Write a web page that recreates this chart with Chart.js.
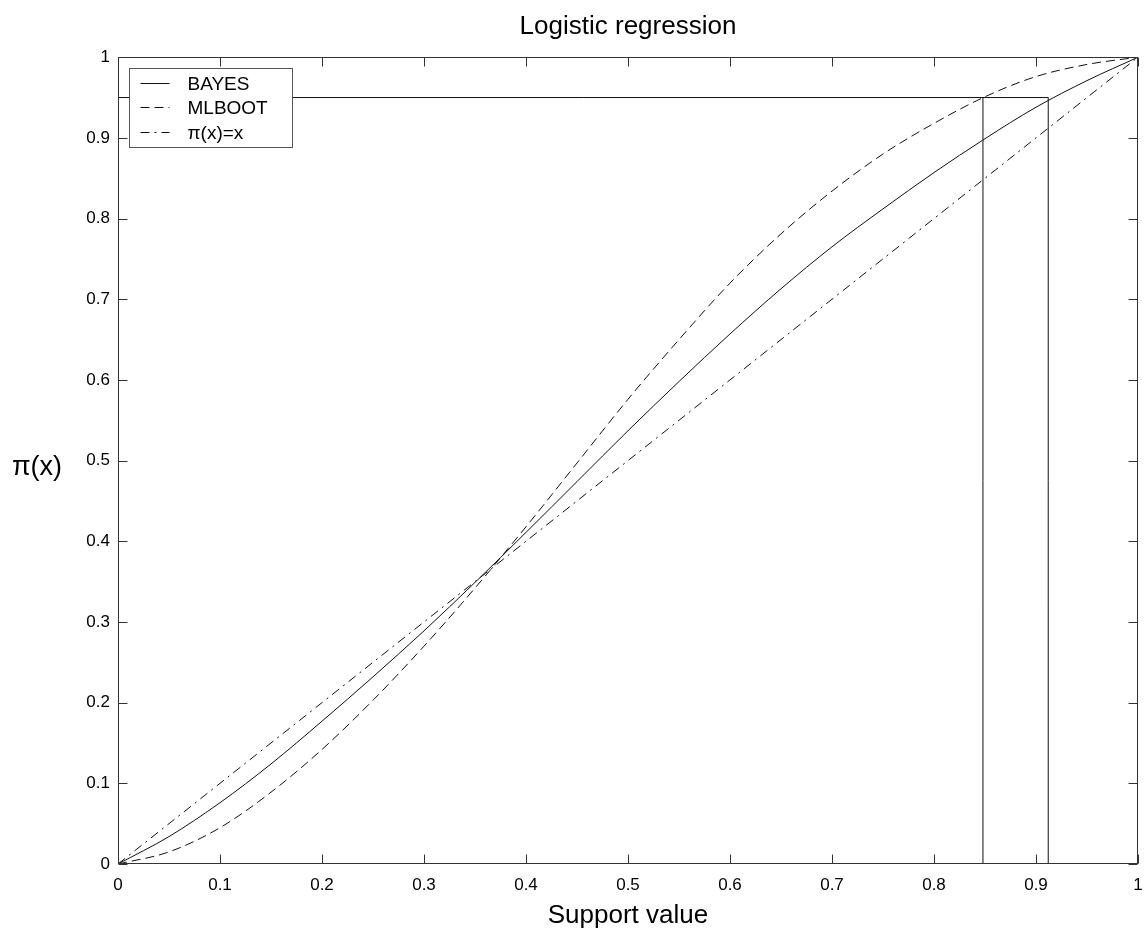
<!DOCTYPE html>
<html>
<head>
<meta charset="utf-8">
<title>Logistic regression</title>
<script src="https://cdn.jsdelivr.net/npm/chart.js@4.4.0/dist/chart.umd.min.js"></script>
<style>
    html, body { margin: 0; padding: 0; background: #fff; }
</style>
</head>
<body>
<canvas id="logitChart" width="1146" height="937"></canvas>
<script>
// values
const supportValues  = [0, 0.05, 0.1, 0.15, 0.2, 0.25, 0.3, 0.35, 0.4, 0.45, 0.5, 0.55, 0.6, 0.65, 0.7, 0.75, 0.8, 0.85, 0.9, 0.95, 1];
const bayesValues    = [0, 0.034, 0.076, 0.124, 0.177, 0.232, 0.289, 0.349, 0.411, 0.474, 0.537, 0.598, 0.657, 0.713, 0.765, 0.812, 0.857, 0.899, 0.938, 0.971, 1];
const mlbootValues   = [0, 0.015, 0.045, 0.089, 0.142, 0.203, 0.270, 0.342, 0.418, 0.497, 0.576, 0.650, 0.720, 0.781, 0.834, 0.880, 0.918, 0.951, 0.976, 0.991, 1];
const identityValues = [0, 0.05, 0.1, 0.15, 0.2, 0.25, 0.3, 0.35, 0.4, 0.45, 0.5, 0.55, 0.6, 0.65, 0.7, 0.75, 0.8, 0.85, 0.9, 0.95, 1];
const seriesLabels = ['BAYES', 'MLBOOT', 'π(x)=x'];

// 95% cut-off and the support values where each curve reaches it
const cutoffLevel = 0.95;
const cutoffSupport = [0.848, 0.912];

const tickValues = [0, 0.1, 0.2, 0.3, 0.4, 0.5, 0.6, 0.7, 0.8, 0.9, 1];
const tickLabels = ['0', '0.1', '0.2', '0.3', '0.4', '0.5', '0.6', '0.7', '0.8', '0.9', '1'];

const FONT = "'Liberation Sans', Arial, Helvetica, sans-serif";
const INK = '#111';

function toPoints(xs, ys) {
    return xs.map(function (x, i) { return { x: x, y: ys[i] }; });
}

// MATLAB style box: frame, inward ticks, boxed legend, upright y label
const matlabBox = {
    id: 'matlabBox',
    afterDraw: function (chart) {
        const ctx = chart.ctx;
        const a = chart.chartArea;
        const xs = chart.scales.x;
        const ys = chart.scales.y;
        const L = Math.round(a.left) + 0.5, R = Math.round(a.right) - 0.5;
        const T = Math.round(a.top) + 0.5, B = Math.round(a.bottom) - 0.5;
        ctx.save();

        ctx.strokeStyle = '#333';
        ctx.lineWidth = 1;
        ctx.setLineDash([]);
        ctx.strokeRect(L, T, R - L, B - T);

        ctx.beginPath();
        tickValues.forEach(function (v) {
            const px = Math.round(xs.getPixelForValue(v)) + 0.5;
            ctx.moveTo(px, B); ctx.lineTo(px, B - 9);
            ctx.moveTo(px, T); ctx.lineTo(px, T + 9);
            const py = Math.round(ys.getPixelForValue(v)) + 0.5;
            ctx.moveTo(L, py); ctx.lineTo(L + 9, py);
            ctx.moveTo(R, py); ctx.lineTo(R - 9, py);
        });
        ctx.stroke();

        // legend
        const bx = L + 11, by = T + 11, bw = 163, bh = 79;
        ctx.fillStyle = '#fff';
        ctx.fillRect(bx, by, bw, bh);
        ctx.strokeStyle = '#555';
        ctx.strokeRect(bx, by, bw, bh);
        ctx.font = '19px ' + FONT;
        ctx.textBaseline = 'middle';
        ctx.textAlign = 'left';
        chart.data.datasets.slice(0, 3).forEach(function (ds, i) {
            const cy = Math.round(T + 25.5 + i * 24.3) + 0.5;
            ctx.strokeStyle = ds.borderColor;
            ctx.lineWidth = 1;
            ctx.setLineDash(ds.borderDash || []);
            ctx.beginPath();
            ctx.moveTo(L + 22, cy);
            ctx.lineTo(L + 51, cy);
            ctx.stroke();
            ctx.setLineDash([]);
            ctx.fillStyle = '#000';
            ctx.fillText(ds.label, L + 69, cy + 1);
        });

        // y axis label, upright as in the original
        ctx.font = '27px ' + FONT;
        ctx.textAlign = 'center';
        ctx.fillStyle = '#000';
        ctx.fillText('π(x)', 37, ys.getPixelForValue(0.5) + 7);
        ctx.restore();
    }
};

const lineStyle = {
    showLine: true,
    pointRadius: 0,
    borderWidth: 1,
    borderColor: INK,
    backgroundColor: INK,
    fill: false
};

new Chart(document.getElementById('logitChart').getContext('2d'), {
    type: 'scatter',
    data: {
        datasets: [
            {
                ...lineStyle,
                label: seriesLabels[0],
                data: toPoints(supportValues, bayesValues),
                cubicInterpolationMode: 'monotone'
            },
            {
                ...lineStyle,
                label: seriesLabels[1],
                data: toPoints(supportValues, mlbootValues),
                borderDash: [9, 5],
                cubicInterpolationMode: 'monotone'
            },
            {
                ...lineStyle,
                label: seriesLabels[2],
                data: toPoints(supportValues, identityValues),
                borderDash: [9, 5, 2, 5]
            },
            {
                ...lineStyle,
                label: 'cutoff',
                data: [{ x: 0, y: cutoffLevel }, { x: cutoffSupport[1], y: cutoffLevel }]
            },
            {
                ...lineStyle,
                label: 'mlboot cut',
                data: [{ x: cutoffSupport[0], y: 0 }, { x: cutoffSupport[0], y: cutoffLevel }]
            },
            {
                ...lineStyle,
                label: 'bayes cut',
                data: [{ x: cutoffSupport[1], y: 0 }, { x: cutoffSupport[1], y: cutoffLevel }]
            }
        ]
    },
    options: {
        responsive: false,
        animation: false,
        devicePixelRatio: 1,
        layout: { padding: { left: 0, right: 0, top: 0, bottom: 0 } },
        plugins: {
            legend: { display: false },
            tooltip: { enabled: false },
            title: {
                display: true,
                fullSize: false,
                text: 'Logistic regression',
                color: '#000',
                font: { family: FONT, size: 26, weight: 'normal' },
                padding: { top: 11, bottom: 15 }
            }
        },
        scales: {
            x: {
                type: 'linear',
                min: 0,
                max: 1,
                grid: { display: false, drawTicks: false },
                border: { display: false },
                afterBuildTicks: function (s) { s.ticks = tickValues.map(function (v) { return { value: v }; }); },
                afterFit: function (s) {
                    s.height = 73;
                    s.paddingLeft = 0;
                    s.paddingRight = 8;
                },
                ticks: {
                    padding: 11,
                    color: '#000',
                    maxRotation: 0,
                    font: { family: FONT, size: 17 },
                    callback: function (v, i) { return tickLabels[i]; }
                },
                title: {
                    display: true,
                    text: 'Support value',
                    color: '#000',
                    font: { family: FONT, size: 26 },
                    padding: { top: 0, bottom: 6 }
                }
            },
            y: {
                type: 'linear',
                min: 0,
                max: 1,
                grid: { display: false, drawTicks: false },
                border: { display: false },
                afterBuildTicks: function (s) { s.ticks = tickValues.map(function (v) { return { value: v }; }); },
                afterFit: function (s) { s.width = 118; },
                ticks: {
                    padding: 8,
                    color: '#000',
                    font: { family: FONT, size: 17 },
                    callback: function (v, i) { return tickLabels[i]; }
                }
            }
        }
    },
    plugins: [matlabBox]
});
</script>
</body>
</html>
